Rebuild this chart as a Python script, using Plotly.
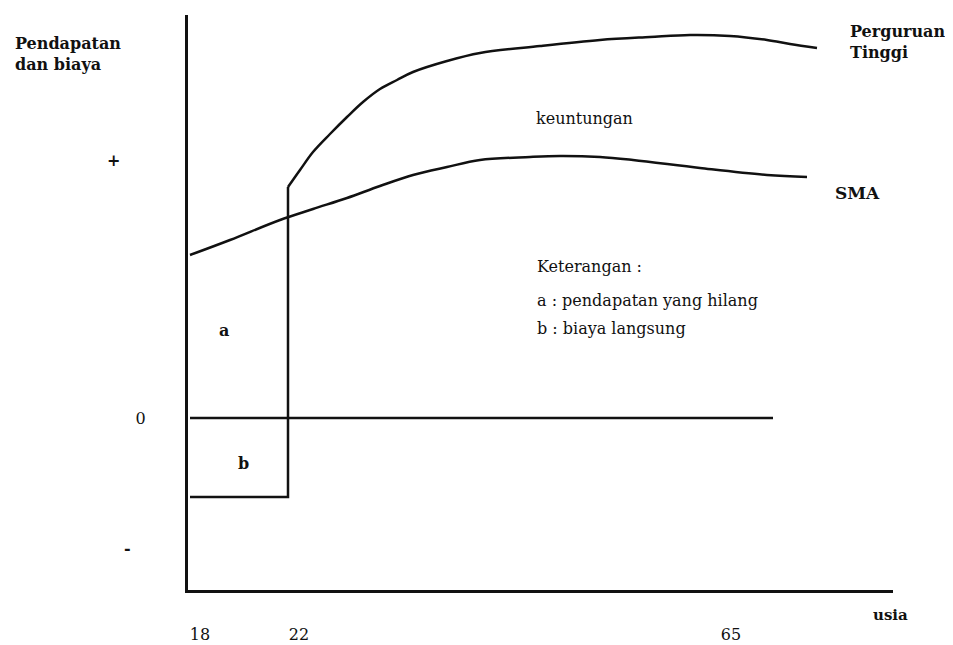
import plotly.graph_objects as go

# --- data (schematic positions; x = position along "usia", y = level, 0 = zero line)
sma_x = [190, 230, 280, 313, 347, 380, 413, 447, 480, 530, 560, 600, 633, 700, 767, 807]
sma_y = [163, 178, 198, 209, 220, 232, 243, 251, 258, 261, 262, 261, 258, 250, 243, 241]

pt_x = [288, 300, 313, 330, 347, 363, 380, 397, 413, 447, 480, 540, 600, 650, 690, 730, 767, 790, 817]
pt_y = [231, 248, 266, 284, 301, 316, 329, 338, 346, 357, 365, 372, 378, 381, 383, 382, 378, 374, 370]

cost_x = [190, 288, 288]
cost_y = [-79, -79, 231]

zero_x = [190, 773]
zero_y = [0, 0]

x_tick_vals = [200, 299, 731]
x_tick_text = ["18", "22", "65"]
y_tick_vals = [258, 0, -130]
y_tick_text = ["<b>+</b>\u00a0\u00a0\u00a0\u00a0\u00a0", "0", "<b>-</b>\u00a0\u00a0\u00a0"]

INK = "#111111"
FONT = "DejaVu Serif"
FS = 16

fig = go.Figure()
line = dict(color=INK, width=2.5)
curve = dict(color=INK, width=2.5, shape="spline", smoothing=1.0)
fig.add_trace(go.Scatter(x=sma_x, y=sma_y, mode="lines", line=curve, hoverinfo="skip"))
fig.add_trace(go.Scatter(x=pt_x, y=pt_y, mode="lines", line=curve, hoverinfo="skip"))
fig.add_trace(go.Scatter(x=cost_x, y=cost_y, mode="lines", line=line, hoverinfo="skip"))
fig.add_trace(go.Scatter(x=zero_x, y=zero_y, mode="lines", line=line, hoverinfo="skip"))

def txt(x, y, s, bold=False, xanchor="center", size=FS):
    fig.add_annotation(x=x, y=y, xref="x", yref="y", text=f"<b>{s}</b>" if bold else s,
                       showarrow=False, xanchor=xanchor, yanchor="middle", align="left",
                       font=dict(family=FONT, size=size, color=INK))

txt(224, 88, "a", bold=True)
txt(243, -45, "b", bold=True)
txt(584, 300, "keuntungan")
txt(833, 225, "SMA", bold=True, xanchor="left", size=17)
txt(848, 376, "Perguruan<br>Tinggi", bold=True, xanchor="left", size=16)
txt(535, 152, "Keterangan :", xanchor="left")
txt(535, 118, "a : pendapatan yang hilang", xanchor="left")
txt(535, 90, "b : biaya langsung", xanchor="left")

# labels outside the plot area
fig.add_annotation(x=-0.248, y=0.97, xref="paper", yref="paper", text="<b>Pendapatan<br>dan biaya</b>",
                   showarrow=False, xanchor="left", yanchor="top", align="left",
                   font=dict(family=FONT, size=FS, color=INK))
fig.add_annotation(x=0.996, y=-0.044, xref="paper", yref="paper", text="<b>usia</b>",
                   showarrow=False, xanchor="center", yanchor="middle",
                   font=dict(family=FONT, size=15, color=INK))

fig.update_layout(
    width=945, height=637,
    margin=dict(l=180, r=60, t=7, b=55, autoexpand=False),
    paper_bgcolor="white", plot_bgcolor="white",
    showlegend=False,
    font=dict(family=FONT, size=FS, color=INK),
)
fig.update_xaxes(range=[188, 893], automargin=False, showgrid=False, zeroline=False, showline=True,
                 linewidth=3, linecolor=INK,
                 ticks="", tickvals=x_tick_vals, ticktext=x_tick_text, ticklabelstandoff=28,
                 tickfont=dict(family=FONT, size=FS, color=INK), fixedrange=True)
fig.update_yaxes(range=[-172, 403], automargin=False, showgrid=False, zeroline=False, showline=True,
                 linewidth=3, linecolor=INK,
                 ticks="", tickvals=y_tick_vals, ticktext=y_tick_text, ticklabelstandoff=36,
                 tickfont=dict(family=FONT, size=FS, color=INK), fixedrange=True)

fig.write_html("out.html")
